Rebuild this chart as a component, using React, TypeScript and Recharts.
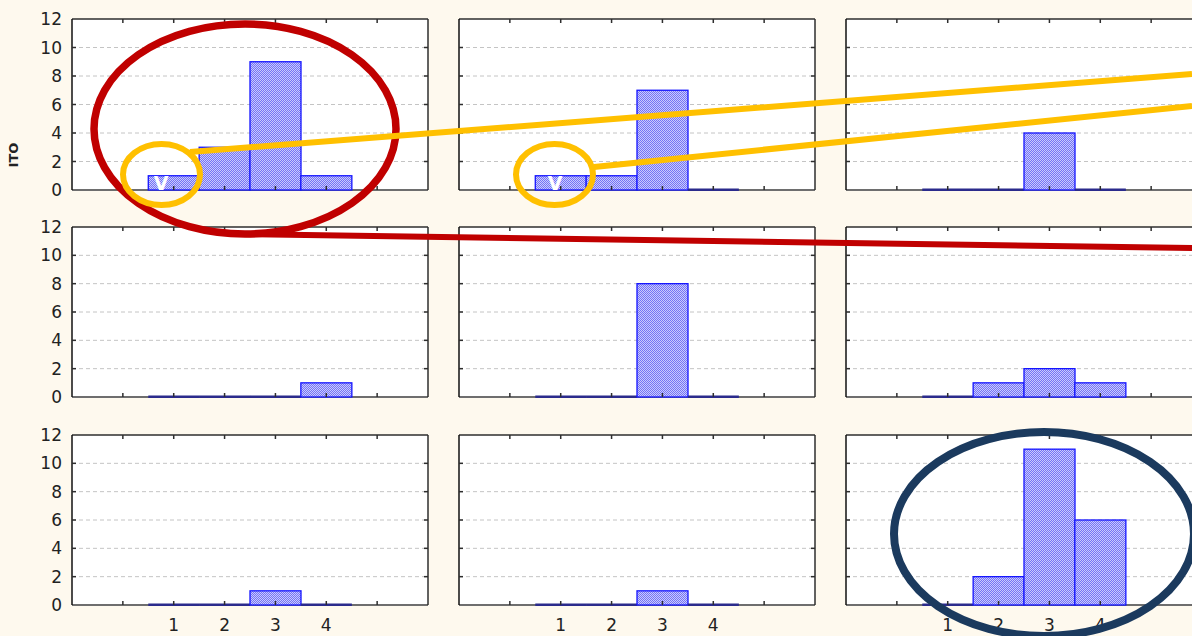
import { Bar, BarChart, CartesianGrid, XAxis, YAxis } from "recharts";

const CATEGORIES = [1, 2, 3, 4];
const Y_TICKS = [0, 2, 4, 6, 8, 10, 12];
const X_TICKS = [-1, 0, 1, 2, 3, 4, 5, 6];

// counts per panel, read row by row
const topLeft = [1, 3, 9, 1];
const topMiddle = [1, 1, 7, 0];
const topRight = [0, 0, 4, 0];
const midLeft = [0, 0, 0, 1];
const midMiddle = [0, 0, 8, 0];
const midRight = [0, 1, 2, 1];
const bottomLeft = [0, 0, 1, 0];
const bottomMiddle = [0, 0, 1, 0];
const bottomRight = [0, 2, 11, 6];

const PANELS = [
  [topLeft, topMiddle, topRight],
  [midLeft, midMiddle, midRight],
  [bottomLeft, bottomMiddle, bottomRight],
];

const COL_LEFT = [72, 459, 846];
const COL_WIDTH = [356, 356, 356];
const ROW_TOP = [19, 227, 435];
const ROW_HEIGHT = [171, 170, 170];

const Y_AXIS_W = 60;
const TOP_PAD = 14;
const RIGHT_PAD = 10;
const X_AXIS_H = 32;
const TICK_LEN = 4;

const FONT = "'DejaVu Sans', sans-serif";
const FRAME = "#2e2e2e";
const LABEL = { fill: "#222", fontSize: 17, fontFamily: FONT };

const HistBar = (props: any) => {
  const { x, y, width, height, payload } = props;
  if (!payload || payload.y === 0 || !height) {
    const base = y + (height || 0);
    return <rect x={x} y={base - 1.5} width={width} height={2.5} fill="#2b2b8c" />;
  }
  return (
    <rect
      x={x}
      y={y}
      width={width}
      height={height}
      fill="url(#blueHatch)"
      stroke="#1414ff"
      strokeWidth={1.3}
    />
  );
};

interface PanelProps {
  values: number[];
  row: number;
  col: number;
}

const Panel = ({ values, row, col }: PanelProps) => {
  const data = CATEGORIES.map((c, i) => ({ x: c, y: values[i] }));
  const showY = col === 0;
  const showX = row === 2;
  const plotW = COL_WIDTH[col];
  const plotH = ROW_HEIGHT[row];
  const width = plotW + Y_AXIS_W + RIGHT_PAD;
  const height = plotH + TOP_PAD + X_AXIS_H;
  const baseY = TOP_PAD + plotH;
  const leftX = Y_AXIS_W;
  const rightX = Y_AXIS_W + plotW;

  const gridLine = (props: any) => {
    const { x1, x2, y1, key } = props;
    if (Math.abs(y1 - baseY) < 1) {
      return <line key={key} x1={x1} x2={x2} y1={y1} y2={y1} stroke="#6e6e6e" strokeWidth={2} />;
    }
    if (Math.abs(y1 - TOP_PAD) < 1) return <g key={key} />;
    return <line key={key} x1={x1} x2={x2} y1={y1} y2={y1} stroke="#c4c4c4" strokeDasharray="4 3" />;
  };

  const xTick = (props: any) => {
    const { x, payload } = props;
    const v = payload.value;
    const inner = v > -1 && v < 6;
    return (
      <g>
        {inner && (
          <>
            <line x1={x} x2={x} y1={baseY} y2={baseY - TICK_LEN} stroke={FRAME} strokeWidth={1.5} />
            <line x1={x} x2={x} y1={TOP_PAD} y2={TOP_PAD + TICK_LEN} stroke={FRAME} strokeWidth={1.5} />
          </>
        )}
        {showX && CATEGORIES.includes(v) && (
          <text x={x} y={baseY + 14} dy="0.71em" textAnchor="middle" {...LABEL}>
            {v}
          </text>
        )}
      </g>
    );
  };

  const yTick = (props: any) => {
    const { y, payload } = props;
    const v = payload.value;
    const inner = v > 0 && v < 12;
    return (
      <g>
        {inner && (
          <>
            <line x1={leftX} x2={leftX + TICK_LEN} y1={y} y2={y} stroke={FRAME} strokeWidth={1.5} />
            <line x1={rightX - TICK_LEN} x2={rightX} y1={y} y2={y} stroke={FRAME} strokeWidth={1.5} />
          </>
        )}
        {showY && (
          <text x={leftX - 10} y={y} dy="0.355em" textAnchor="end" {...LABEL}>
            {v}
          </text>
        )}
      </g>
    );
  };

  return (
    <div
      style={{
        position: "absolute",
        left: COL_LEFT[col] - Y_AXIS_W,
        top: ROW_TOP[row] - TOP_PAD,
        width,
        height,
      }}
    >
      <BarChart
        width={width}
        height={height}
        data={data}
        margin={{ top: TOP_PAD, right: RIGHT_PAD, left: 0, bottom: 0 }}
        barCategoryGap={0}
        barGap={0}
      >
        <CartesianGrid fill="#ffffff" vertical={false} horizontal={gridLine} />
        <XAxis
          dataKey="x"
          type="number"
          domain={[-1, 6]}
          ticks={X_TICKS}
          interval={0}
          allowDataOverflow
          height={X_AXIS_H}
          axisLine={false}
          tickLine={false}
          tick={xTick}
        />
        <XAxis
          xAxisId="topFrame"
          orientation="top"
          type="number"
          domain={[-1, 6]}
          mirror
          axisLine={{ stroke: FRAME, strokeWidth: 1.5 }}
          tick={false}
          tickLine={false}
        />
        <YAxis
          type="number"
          domain={[0, 12]}
          ticks={Y_TICKS}
          interval={0}
          width={Y_AXIS_W}
          axisLine={{ stroke: "#111", strokeWidth: 1.5 }}
          tickLine={false}
          tick={yTick}
        />
        <YAxis
          yAxisId="rightFrame"
          orientation="right"
          type="number"
          domain={[0, 12]}
          mirror
          axisLine={{ stroke: FRAME, strokeWidth: 1.5 }}
          tick={false}
          tickLine={false}
        />
        <Bar dataKey="y" isAnimationActive={false} shape={HistBar} />
      </BarChart>
    </div>
  );
};

export default function App() {
  return (
    <div
      style={{
        position: "absolute",
        left: 0,
        top: 0,
        width: 1192,
        height: 636,
        overflow: "hidden",
        background: "#fef9ee",
        fontFamily: FONT,
      }}
    >
      <svg width={0} height={0} style={{ position: "absolute" }}>
        <defs>
          <pattern id="blueHatch" width={2} height={2} patternUnits="userSpaceOnUse">
            <rect width={2} height={2} fill="#cacafd" />
            <rect width={1} height={1} fill="#7474f5" />
            <rect x={1} y={1} width={1} height={1} fill="#7474f5" />
          </pattern>
        </defs>
      </svg>

      {PANELS.map((rowPanels, r) =>
        rowPanels.map((values, c) => <Panel key={`${r}-${c}`} values={values} row={r} col={c} />)
      )}

      <svg
        width={1192}
        height={636}
        style={{ position: "absolute", left: 0, top: 0, pointerEvents: "none" }}
      >
        <text
          x={18}
          y={155}
          transform="rotate(-90 18 155)"
          textAnchor="middle"
          fontSize={13}
          fontWeight="bold"
          fill="#222"
          fontFamily={FONT}
        >
          ITO
        </text>
        <text x={161} y={190} textAnchor="middle" fontSize={19} fontWeight="bold" fill="#ffffff" fontFamily={FONT}>
          V
        </text>
        <text x={555} y={190} textAnchor="middle" fontSize={19} fontWeight="bold" fill="#ffffff" fontFamily={FONT}>
          V
        </text>
        <ellipse cx={245} cy={129} rx={151} ry={105} fill="none" stroke="#c00000" strokeWidth={7.5} />
        <line x1={245} y1={234} x2={1192} y2={248} stroke="#c00000" strokeWidth={6} />
        <line x1={190} y1={152} x2={1192} y2={74} stroke="#ffc000" strokeWidth={6} />
        <line x1={594} y1={167} x2={1192} y2={106} stroke="#ffc000" strokeWidth={6} />
        <ellipse cx={161.5} cy={174.5} rx={38.5} ry={30.5} fill="none" stroke="#ffc000" strokeWidth={6} />
        <ellipse cx={554.5} cy={174.5} rx={38.5} ry={30.5} fill="none" stroke="#ffc000" strokeWidth={6} />
        <ellipse cx={1044} cy={534} rx={150} ry={102} fill="none" stroke="#1b3a5e" strokeWidth={8} />
      </svg>
    </div>
  );
}
